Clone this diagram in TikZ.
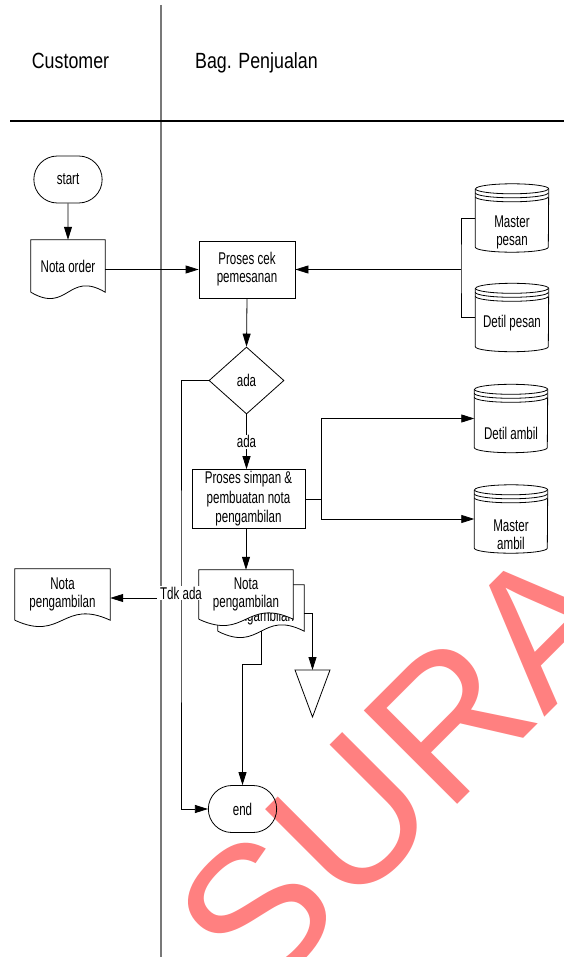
\documentclass[tikz,border=0pt]{standalone}
\usepackage{fontspec}
\setmainfont{Liberation Sans}[FakeStretch=0.68]
\newfontfamily\hdfont{Liberation Sans}[FakeStretch=0.81]
\newfontfamily\wmfont{Liberation Sans}
\usetikzlibrary{arrows.meta,shapes.geometric,shapes.misc,calc}
\definecolor{wmred}{RGB}{255,128,128}
\definecolor{lanegray}{RGB}{120,120,120}
% dokumen: sisi bawah bergelombang
\newcommand\docdraw[2][]{%
  \draw[line width=0.8pt,#1] (#2.south west) -- (#2.north west) -- (#2.north east) -- (#2.south east)
    .. controls ($(#2.south)+(0,-22)$) and ($(#2.south)+(0,22)$) .. (#2.south west);}
% database: silinder dengan tiga garis atas
\newcommand\dbdraw[1]{%
  \draw[line width=0.8pt] ([yshift=-5pt]#1.north west) -- ([yshift=5pt]#1.south west)
    arc[start angle=180,end angle=360,x radius=36.5pt,y radius=5pt]
    -- ([yshift=-5pt]#1.north east)
    arc[start angle=0,end angle=180,x radius=36.5pt,y radius=5pt];
  \foreach \dy in {5,9,13}
    \draw[line width=0.8pt] ([yshift=-\dy pt]#1.north west) arc[start angle=180,end angle=360,x radius=36.5pt,y radius=5pt];}
\begin{document}
\begin{tikzpicture}[x=1pt, y=-1pt, font=\fontsize{17}{18}\selectfont,
  proc/.style={draw, line width=0.8pt, inner sep=2pt, align=center},
  term/.style={draw, line width=0.8pt, rounded rectangle, minimum width=75pt, minimum height=47pt},
  decision/.style={draw, diamond, aspect=1.12, line width=0.8pt, minimum width=75pt, minimum height=67pt, inner sep=0pt},
  docbox/.style={inner sep=0pt, align=center},
  dbbox/.style={minimum width=73pt, minimum height=68pt, inner sep=0pt},
  dbtext/.style={align=center, inner sep=0pt},
  hd/.style={font=\hdfont\fontsize{22}{24}\selectfont, inner sep=0pt},
  arr/.style={line width=0.8pt, -{Triangle[length=13pt,width=8pt]}},
  line/.style={line width=0.8pt},
  lbl/.style={fill=white, inner xsep=3pt, inner ysep=1pt}]
	\useasboundingbox (0,0) rectangle (564,957);

	% watermark
	\begin{scope}
		\clip (0,0) rectangle (564,957);
		\node[rotate=45, anchor=base west, inner sep=0pt, text=wmred, font=\wmfont\fontsize{192}{192}\selectfont] (wm) at (257.6,1004.4) {SURA};
	\end{scope}

	% swimlane
	\draw[line width=1.4pt, lanegray] (161,5) -- (161,957);%garis lane
	\draw[line width=1.1pt] (10,121) -- (564,121);%garis header
	\node[hd, anchor=base] (laneCust) at (70.5,69) {Customer};
	\node[hd, anchor=base west] (laneJual) at (195,69) {Bag. Penjualan};

	% customer
	\node[term] (start) at (68,179.5) {start};
	\node[docbox, minimum width=74pt, minimum height=52pt] (notaOrd) at (68,266) {Nota order};
	\docdraw{notaOrd}
	\node[docbox, minimum width=95pt, minimum height=51pt] (custNota) at (62.5,594.5) {Nota\\pengambilan};
	\docdraw{custNota}

	% bag. penjualan
	\node[proc, minimum width=96pt, minimum height=57pt] (cek) at (247,269.5) {Proses cek\\pemesanan};
	\node[decision] (dia) at (246.5,380.5) {ada};
	\node[proc, minimum width=113pt, minimum height=58pt, font=\fontsize{17}{19.5}\selectfont] (sim) at (248.5,499) {Proses simpan \&\\pembuatan nota\\pengambilan};
	\node[term] (endN) at (242.5,809) {end};

	% database
	\node[dbbox, label={[dbtext,yshift=-14pt]center:Master\\pesan}] (mPesan) at (512,218) {};
	\dbdraw{mPesan}
	\node[dbbox, label={[dbtext,yshift=-5.5pt]center:Detil pesan}] (dPesan) at (512,317.5) {};
	\dbdraw{dPesan}
	\node[dbbox, label={[dbtext,yshift=-14.5pt]center:Detil ambil}] (dAmbil) at (511,418.5) {};
	\dbdraw{dAmbil}
	\node[dbbox, label={[dbtext,yshift=-16pt]center:Master\\ambil}] (mAmbil) at (511,519) {};
	\dbdraw{mAmbil}

	% nota pengambilan rangkap
	\node[docbox, minimum width=86pt, minimum height=46pt] (notaMid) at (261,608) {Nota\\pengambilan};
	\docdraw{notaMid}
	\node[docbox, minimum width=94pt, minimum height=49pt] (notaB) at (246,594.5) {};
	\docdraw[fill=white]{notaB}
	\node[docbox] (notaBtxt) at (notaB) {Nota\\pengambilan};

	% arsip
	\coordinate (arsip) at (312.5,670);
	\draw[line] (arsip) ++(-17.5,0) -- ++(35,0) -- ++(-17.5,47) -- cycle;

	% alur
	\draw[arr] (start) -- (notaOrd);
	\draw[arr] (notaOrd.east |- cek.west) -- (cek.west);
	\coordinate (gabung) at (461,269.5);
	\draw[line] (mPesan.west) -| (gabung) |- (dPesan.west);
	\draw[arr] (gabung) -- (cek.east);
	\draw[arr] (cek.south) -- (dia.north);
	\draw[arr] (dia.south) -- (dia.south |- sim.north) node[lbl, midway] {ada};
	\coordinate (cabang) at (321,499);
	\draw[line] (sim.east) -- (cabang);
	\draw[arr] (cabang) |- (dAmbil.west);
	\draw[arr] (cabang) |- (mAmbil.west);
	\draw[arr] (sim.south -| notaB.north) -- (notaB.north);
	\draw[arr] ([yshift=-5pt]notaMid.east) -| (arsip);
	\coordinate (belok) at (261,664);
	\draw[arr] (notaMid.south) -- (belok) -| (endN.north);

	% tidak ada
	\coordinate (tdk) at (181,598);
	\draw[arr] (dia.west) -| (tdk) |- (endN.west);
	\draw[arr] (tdk) -- (tdk -| custNota.east);
	\node[lbl] (tdkLbl) at (181,593) {Tdk ada};
\end{tikzpicture}
\end{document}
